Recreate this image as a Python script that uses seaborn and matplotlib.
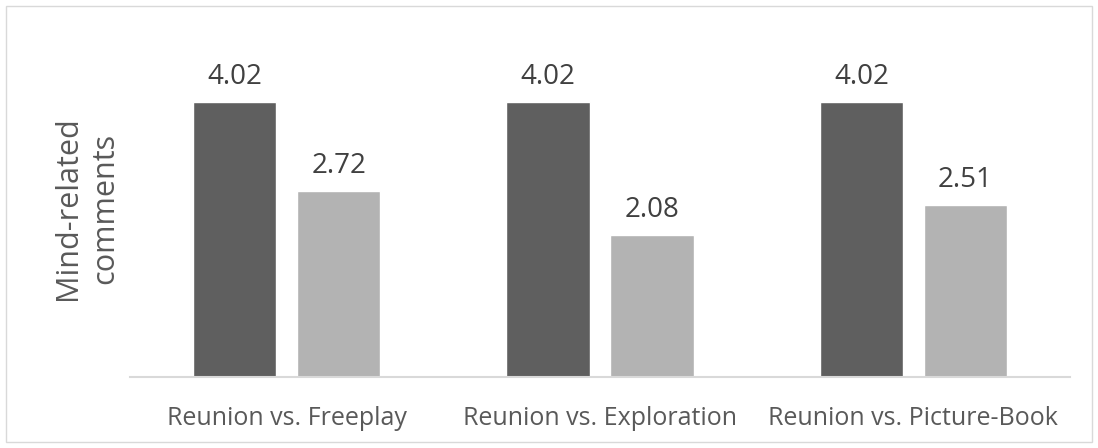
import matplotlib
matplotlib.use("Agg")
import matplotlib.pyplot as plt
import seaborn as sns
import pandas as pd

# Data
categories = ["Reunion vs. Freeplay", "Reunion vs. Exploration", "Reunion vs. Picture-Book"]
reunion = [4.02, 4.02, 4.02]
comparison = [2.72, 2.08, 2.51]
series = ["Reunion", "Comparison"]

df = pd.DataFrame({
    "pair": categories * 2,
    "condition": [series[0]] * 3 + [series[1]] * 3,
    "value": reunion + comparison,
})

sns.set_theme(style="white")
plt.rcParams["font.family"] = ["Open Sans", "DejaVu Sans"]

W, H = 1098, 448
fig = plt.figure(figsize=(W / 100, H / 100), dpi=100)
left, right, top, bottom = 130, 1070, 40, 377
ax = fig.add_axes([left / W, 1 - bottom / H, (right - left) / W, (bottom - top) / H])

sns.barplot(data=df, x="pair", y="value", hue="condition", order=categories,
            hue_order=series, palette=["#5f5f5f", "#b3b3b3"],
            width=0.664, gap=0.2, saturation=1, legend=False, ax=ax, errorbar=None)

ax.set_ylim(0, (bottom - top) / 68.4)
ax.set_xlim(-0.5, 2.5)

for c in ax.containers:
    ax.bar_label(c, labels=[f"{v:.2f}" for v in c.datavalues], padding=8,
                 fontsize=20, color="#404040")

ax.set_yticks([])
ax.set_xlabel("")
ax.set_ylabel("Mind-related\ncomments", fontsize=22, color="#595959", labelpad=7,
              linespacing=1.32)
ax.tick_params(axis="x", length=0, pad=21, labelsize=18, labelcolor="#595959")

for s in ["top", "right", "left"]:
    ax.spines[s].set_visible(False)
ax.spines["bottom"].set_color("#d9d9d9")
ax.spines["bottom"].set_linewidth(1.5)

# Outer chart frame
fig.add_artist(plt.Rectangle((6 / W, 6 / H), (W - 12) / W, (H - 12) / H,
                             transform=fig.transFigure, fill=False,
                             edgecolor="#d9d9d9", linewidth=1))

fig.savefig("out.png", dpi=100)
